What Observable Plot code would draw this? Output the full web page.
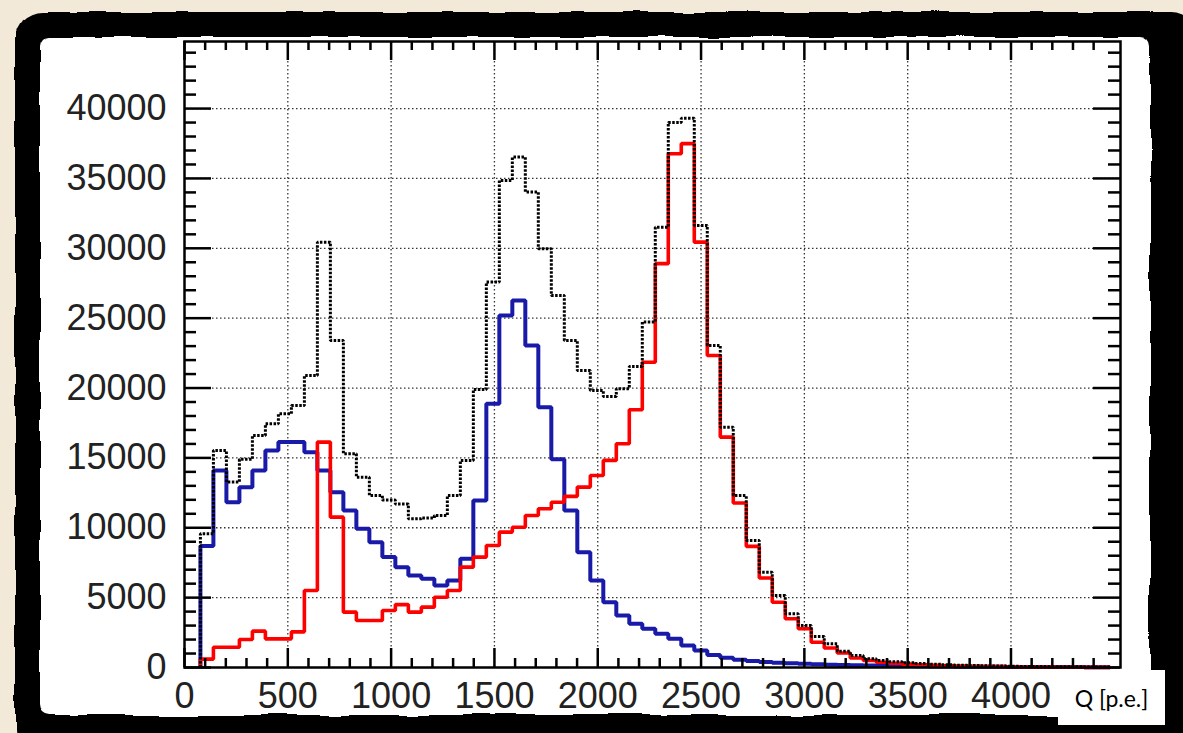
<!DOCTYPE html>
<html><head><meta charset="utf-8">
<script src="https://cdn.jsdelivr.net/npm/d3@7"></script>
<script src="https://cdn.jsdelivr.net/npm/@observablehq/plot@0.6"></script>
<style>
html,body{margin:0;padding:0;width:1183px;height:733px;overflow:hidden;background:#f2e9d8;}
#border{position:absolute;left:15px;top:12px;width:1185px;height:745px;background:#000;border-radius:28px;filter:url(#wobble);}
#panel{position:absolute;left:40px;top:37px;width:1110px;height:678px;background:#fff;border-radius:10px;filter:url(#wobble);}
#chart{position:absolute;left:0;top:0;width:1183px;height:733px;}
#unit{position:absolute;left:1058px;top:670px;width:107px;height:55px;background:#fff;font-family:Lato,"Noto Sans",sans-serif;font-size:23px;display:flex;align-items:center;justify-content:center;color:#000;}
</style></head>
<body>
<svg width="0" height="0" style="position:absolute">
  <filter id="wobble" x="-5%" y="-5%" width="110%" height="110%">
    <feTurbulence type="fractalNoise" baseFrequency="0.02" numOctaves="2" seed="3" result="n"/>
    <feDisplacementMap in="SourceGraphic" in2="n" scale="8" xChannelSelector="R" yChannelSelector="G"/>
  </filter>
</svg>
<div id="border"></div><div id="panel"></div><div id="chart"></div><div id="unit">Q [p.e.]</div>
<script>
// Histogram binning (p.e.)
const binStart = 77;
const binWidth = 62.9;

// Series values per bin (counts)
const blueCounts = [8700,14100,11830,12900,14100,15530,16130,16130,15410,14100,
  12550,11240,9930,8970,7900,7180,6590,6350,5870,6230,
  7780,11950,18870,25200,26270,23050,18630,14900,11240,8250,
  6230,4670,3720,3130,2770,2410,2050,1570,1220,900,
  700,560,470,400,340,300,260,230,200,180,
  160,140,120,110,100,90,80,70,60,60,
  50,50,40,40,40,30,30,30,20,20];
const redCounts = [600,1450,1450,2000,2600,2050,2050,2550,5510,16130,
  10760,3960,3360,3360,4080,4500,3960,4320,5030,5510,
  7180,7900,8730,9690,10040,10880,11360,11830,12250,12910,
  13740,14820,16010,18450,21850,28900,36770,37490,30440,22330,
  16490,11770,8670,6400,4670,3490,2770,1810,1400,1040,
  680,500,380,300,240,200,160,130,110,90,
  70,60,50,40,30,30,20,20,10,10];
const blackCounts = [9570,15530,13270,14900,16610,17440,18160,18750,20900,30440,
  23410,15300,13620,12310,11980,11700,10640,10700,10880,12310,
  14820,19900,27580,34860,36530,34030,29970,26630,23410,21260,
  19830,19400,19950,21550,24720,31500,39000,39300,31640,23050,
  17200,12310,9090,6820,5150,3840,3010,2220,1700,1170,
  860,620,500,410,340,290,240,200,170,150,
  120,110,90,80,70,60,50,50,30,30];

// Tick labels
const xTicks = [0,500,1000,1500,2000,2500,3000,3500,4000];
const yTicks = [0,5000,10000,15000,20000,25000,30000,35000,40000];
const xMinor = d3.range(0, 4501, 100).filter(d => d % 500 !== 0);
const yMinor = d3.range(0, 44001, 1000).filter(d => d % 5000 !== 0);

function steps(vals) {
  const pts = [{x: binStart, y: 0}];
  vals.forEach((v, i) => pts.push({x: binStart + i * binWidth, y: v}));
  pts.push({x: binStart + vals.length * binWidth, y: vals[vals.length - 1]});
  return pts;
}

const W = 1183, H = 733, mL = 184, mR = 63, mT = 41, mB = 66;
const iw = W - mL - mR, ih = H - mT - mB;
const gridStyle = {stroke: "#000", strokeOpacity: 0.8, strokeWidth: 1.3, strokeDasharray: "1.5,2.5"};
const lineBase = {x: "x", y: "y", curve: "step-after", strokeLinejoin: "miter", strokeLinecap: "butt"};
const tk = {stroke: "#000", strokeWidth: 2.5};

const chart = Plot.plot({
  width: W, height: H,
  marginLeft: mL, marginRight: mR, marginTop: mT, marginBottom: mB,
  style: {background: "transparent", fontFamily: "'Liberation Sans', Arial, sans-serif", color: "#222", overflow: "visible"},
  x: {domain: [0, 4530]},
  y: {domain: [0, 44800]},
  marks: [
    Plot.gridX(xTicks.filter(d => d > 0), gridStyle),
    Plot.gridY(yTicks.filter(d => d > 0), gridStyle),
    Plot.line(steps(blueCounts), {...lineBase, stroke: "#1a1aa8", strokeWidth: 4}),
    Plot.line(steps(redCounts), {...lineBase, stroke: "#ff0000", strokeWidth: 3.6}),
    Plot.line(steps(blackCounts), {...lineBase, stroke: "#000", strokeWidth: 3, strokeDasharray: "2.5,1.5"}),
    Plot.frame({stroke: "#000", strokeWidth: 2.5}),
    Plot.tickX(xTicks, {x: d => d, insetTop: ih - 19, ...tk}),
    Plot.tickX(xTicks, {x: d => d, insetBottom: ih - 19, ...tk}),
    Plot.tickX(xMinor, {x: d => d, insetTop: ih - 9, ...tk}),
    Plot.tickX(xMinor, {x: d => d, insetBottom: ih - 9, ...tk}),
    Plot.tickY(yTicks, {y: d => d, insetRight: iw - 27, ...tk}),
    Plot.tickY(yTicks, {y: d => d, insetLeft: iw - 27, ...tk}),
    Plot.tickY(yMinor, {y: d => d, insetRight: iw - 12, ...tk}),
    Plot.tickY(yMinor, {y: d => d, insetLeft: iw - 12, ...tk}),
    Plot.axisX({ticks: xTicks, tickSize: 0, tickPadding: 15, label: null, tickFormat: d => String(d), fontSize: 36}),
    Plot.axisY({ticks: yTicks, tickSize: 0, tickPadding: 18, label: null, tickFormat: d => String(d), fontSize: 36})
  ]
});
document.getElementById("chart").appendChild(chart);
</script>
</body></html>
